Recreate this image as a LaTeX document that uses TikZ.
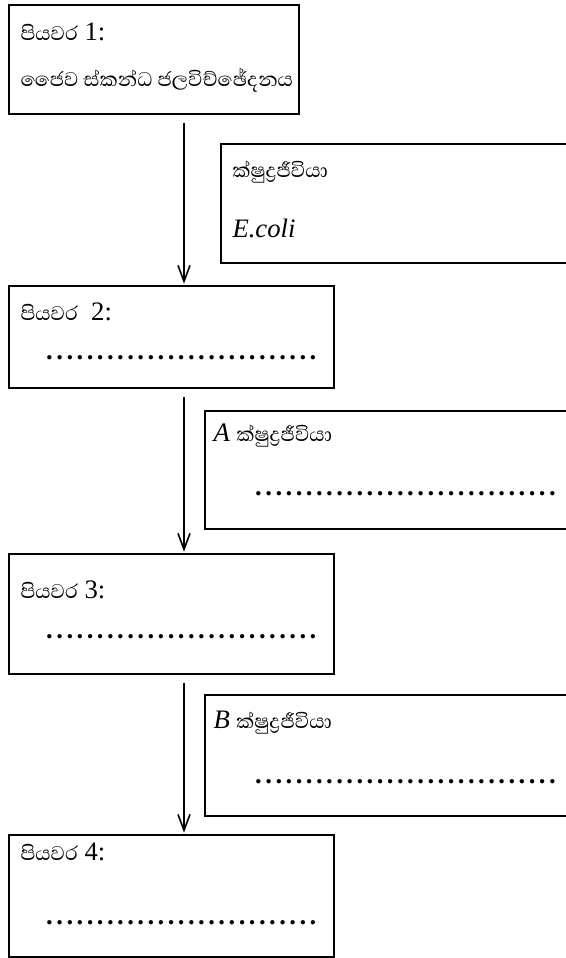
\documentclass[tikz,border=0pt]{standalone}
\usepackage{fontspec}
\setmainfont{Liberation Serif}
\newfontfamily\sinhfont[Script=Sinhala,Scale=0.95]{Abhaya Libre}
\usetikzlibrary{arrows.meta}

\newcommand{\blankline}[1]{\hbox to #1{\bfseries\leaders\hbox to 7.6pt{\hss.\hss}\hfill}}

\tikzset{every picture/.style={line width=0.75pt}}
\tikzset{
  stepbox/.style={draw, line width=1.4pt, rectangle, inner sep=0pt, anchor=north west},
  steptext/.style={anchor=west, inner sep=0.75pt, font=\fontsize{20}{22}\selectfont},
  flow/.style={line width=1.5pt, -{Straight Barb[length=12pt,width=9pt,line width=1.2pt]}, shorten <=6pt, shorten >=1pt},
}

\begin{document}
\begin{tikzpicture}[x=0.75pt,y=0.75pt,yscale=-1,xscale=1]
\useasboundingbox (0,0) rectangle (566,958);

%Shape: Rectangle [step 1]
\node[stepbox, minimum width=217.5pt, minimum height=81.75pt] (s1) at (8,4) {};
%Shape: Rectangle [step 2]
\node[stepbox, minimum width=243.75pt, minimum height=76.5pt] (s2) at (8,285) {};
%Shape: Rectangle [step 3]
\node[stepbox, minimum width=243.75pt, minimum height=90pt] (s3) at (8,553) {};
%Shape: Rectangle [step 4]
\node[stepbox, minimum width=243.75pt, minimum height=91.5pt] (s4) at (8,834) {};

%Shape: Rectangle [microbes, cut at right edge]
\node[stepbox, minimum width=270pt, minimum height=89.25pt] (m0) at (220,143) {};
\node[stepbox, minimum width=282pt, minimum height=88.5pt] (mA) at (204,410) {};
\node[stepbox, minimum width=282pt, minimum height=90.75pt] (mB) at (204,694) {};

% arrow column
\coordinate (col) at (184,0);

%Straight Lines
\draw[flow] (s1.south -| col) -- (s2.north -| col);
\draw[flow] (s2.south -| col) -- (s3.north -| col);
\draw[flow] (s3.south -| col) -- (s4.north -| col);

% Text Node
\node[steptext] (t1) at (19,32) {{\sinhfont පියවර} 1:};
% Text Node
\node[steptext] (t1b) at (19,80) {\sinhfont ජෛව ස්කන්ධ ජලවිච්ඡේදනය};
% Text Node
\node[steptext] (m0a) at (231,172) {\sinhfont ක්ෂුද්‍රජීවියා};
% Text Node
\node[steptext] (m0b) at (231,228) {\textit{E.coli}};
% Text Node
\node[steptext] (t2) at (19,312) {{\sinhfont පියවර}\ \ 2:};
% Text Node
\node[steptext] (d2) at (43,358) {\blankline{210pt}};
% Text Node
\node[steptext] (mAa) at (212,436) {\textit{A} {\sinhfont ක්ෂුද්‍රජීවියා}};
% Text Node
\node[steptext] (dA) at (252,494) {\blankline{232pt}};
% Text Node
\node[steptext] (t3) at (19,590) {{\sinhfont පියවර} 3:};
% Text Node
\node[steptext] (d3) at (43,637) {\blankline{210pt}};
% Text Node
\node[steptext] (mBa) at (212,723) {\textit{B} {\sinhfont ක්ෂුද්‍රජීවියා}};
% Text Node
\node[steptext] (dB) at (252,782) {\blankline{232pt}};
% Text Node
\node[steptext] (t4) at (19,852) {{\sinhfont පියවර} 4:};
% Text Node
\node[steptext] (d4) at (43,923) {\blankline{210pt}};

\end{tikzpicture}
\end{document}
